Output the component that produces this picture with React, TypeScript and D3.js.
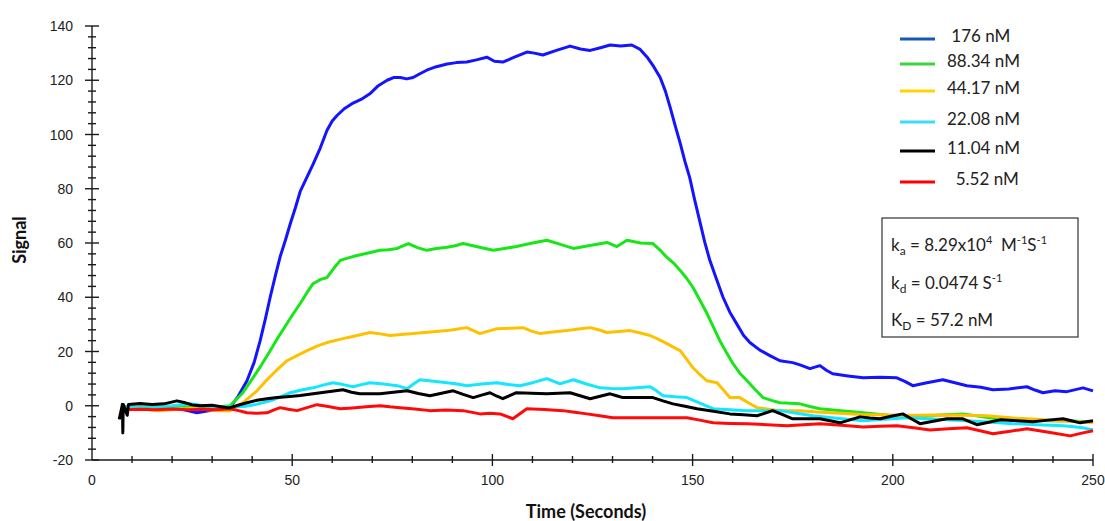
import React, { useEffect, useRef } from "react";
import * as d3 from "d3";

// concentrations shown in the legend
const concLabels = [" 176 nM", "88.34 nM", "44.17 nM", "22.08 nM", "11.04 nM", "  5.52 nM"];
const lineColors = ["#1414ff", "#19e619", "#ffc000", "#14e6ff", "#000000", "#ff0a0a"];
const legendColors = ["#1657b8", "#3ed43e", "#ffd400", "#3ddcff", "#000000", "#ff0000"];

const xMajor = [0, 50, 100, 150, 200, 250];
const yMajor = [-20, 0, 20, 40, 60, 80, 100, 120, 140];

// [time, signal]
const s176 = [[7.6,-1],[9,-0.5],[12.7,0],[16,-0.5],[20,-1],[23,-1.5],[26.2,-2.6],[29.5,-1.8],[32,-1.2],[34.5,-0.7],[36.5,3.5],[38.7,9.2],[40.5,16],[42,24],[43.3,32],[44.5,40],[45.8,48],[47,55],[48.3,61],[49.5,67],[50.8,73],[52,79],[53.6,84],[55.2,89],[57,95],[58.7,101.6],[60,105],[61.2,107],[63,109.5],[65.2,111.6],[67.3,113],[69.4,115],[71.5,118],[73.7,120],[75.3,121],[77,121],[78.6,120.5],[80.2,121],[82,122.5],[83.6,123.7],[86,125],[88.7,126],[91,126.5],[93.6,126.7],[96,127.5],[98.6,128.5],[100.5,127],[102.6,126.7],[105.5,128.5],[108.6,130.4],[110.5,130],[112.6,129.3],[116,131],[119.4,132.6],[122,131.5],[124.4,131],[127,132],[129.4,133],[132,132.6],[134.8,133],[136.8,131.5],[138.6,128.6],[140.3,125],[141.9,121],[143.2,116],[144.4,110],[145.7,103],[146.9,96.8],[148.1,90],[149.3,84],[150.5,76],[151.8,68],[153,60.5],[154.3,53.6],[156,46.5],[157.6,40],[159.3,34.5],[161.1,30],[162.7,26],[164.3,23.3],[166.8,20.5],[169.3,18.5],[171.8,16.6],[175,15.9],[177,15],[179.3,13.7],[181.8,14.8],[183.5,13],[185,11.8],[188.8,11],[192.6,10.3],[196.8,10.5],[201,10.3],[203,9],[205,7.4],[208.5,8.5],[212.5,9.6],[215.5,8.5],[218.5,7.4],[222,6.8],[225,5.9],[229,6.2],[233.5,7],[235.5,5.8],[237.5,4.8],[240.5,5.5],[243.5,5.2],[247.5,6.6],[250,5.5]];
const s88 = [[7.8,-0.5],[12,-0.2],[16,-0.5],[19.3,-0.7],[22,0],[25,-0.7],[28,-1],[31,-0.5],[34.5,0],[37.5,4.5],[40.2,10.3],[42.3,15],[44.5,20.3],[46.6,25.5],[48.7,30.3],[50.3,34],[52,37.7],[53.6,41.5],[55.2,45],[57,46.5],[58.7,47.3],[60.3,50.5],[62,53.6],[64,54.5],[66.2,55.4],[69,56.3],[71.9,57.3],[74,57.5],[76.2,58],[79,59.8],[81.3,58.3],[83.6,57.3],[86,58],[88.7,58.4],[90.7,59],[92.7,59.8],[96.5,58.5],[100.2,57.3],[103,58],[106,58.7],[110,60],[113.6,61],[117,59.5],[120.2,58],[124,59],[128.6,60.2],[131.1,58.7],[133.6,61],[137,60],[140.1,59.8],[141.8,57.5],[143.6,54.7],[145.3,52.5],[146.9,49.9],[148.5,47],[150.1,43.6],[151.8,39],[153.6,34],[155.2,29],[156.8,24],[158.5,19.5],[160.1,15.5],[161.8,12],[163.6,9.2],[165.6,6],[167.6,3],[169.7,2],[171.8,1.1],[174.3,0.9],[176.8,0.7],[179.3,-0.3],[181.8,-1.1],[187,-1.8],[192.6,-2.6],[198.8,-3.5],[205,-4.4],[211,-3.5],[217.5,-3],[222,-4],[226,-4.8],[232,-5],[238.5,-5.5],[244,-5.6],[250,-5.9]];
const s44 = [[8,-1],[12,-1.2],[17,-1.8],[21,-1.3],[25,-1],[29,-1.5],[32.7,-1.8],[34.5,-1.8],[38,1.5],[41.2,5.5],[43.2,8.8],[45.2,11.8],[47,14.3],[48.7,16.6],[51.2,18.5],[53.7,20.3],[56.2,22],[58.7,23.3],[61.2,24.2],[63.7,25.1],[66.5,26],[69.4,27],[72,26.5],[74.4,25.9],[77.3,26.3],[80.2,26.6],[84.5,27.2],[88.7,27.7],[91,28.2],[93.6,28.8],[96.9,26.6],[99,27.5],[101.1,28.4],[104.5,28.6],[107.6,28.8],[109.8,27.5],[111.9,26.6],[115,27.2],[118.6,27.7],[121.5,28.3],[124.4,28.8],[126.5,28],[128.6,27],[131.5,27.4],[134.4,27.7],[137,26.8],[139.4,25.9],[141.5,24.5],[143.6,22.9],[145.3,21.5],[146.9,20.3],[148.5,17.2],[150.1,14],[151.8,11.5],[153.6,9.2],[156.1,8.5],[157.7,5.8],[159.3,3],[161.8,3],[164,1],[166.1,-0.7],[169,-1.3],[171.8,-1.8],[176.8,-1.8],[182,-2.4],[187,-2.8],[192,-3.2],[196.8,-3.3],[203,-3.6],[210,-3.4],[217,-3.5],[223.5,-3.7],[230,-4.5],[236,-5],[242,-5.5],[246.8,-5.9],[250,-6.3]];
const s22 = [[7.8,-0.5],[12,0],[16,-0.3],[20,0],[24.5,0.7],[28,0],[31,-0.5],[34.5,-0.5],[38,-0.3],[41,0.5],[44.5,1.8],[47,3.2],[49.5,4.8],[52.3,5.8],[55.2,6.6],[57.7,7.6],[60.2,8.5],[62.7,7.8],[65.2,7],[67.3,7.8],[69.4,8.5],[72.8,8],[76.2,7.4],[78.7,6.3],[80.3,8],[81.9,9.6],[85.3,9],[88.7,8.5],[91.2,8],[93.6,7.4],[97.3,8],[101.1,8.5],[104,7.8],[106.9,7.4],[110.3,8.6],[113.6,10],[116.9,8.1],[118.5,8.8],[120.2,9.6],[123.5,8],[126.9,6.6],[129.7,6.4],[132.6,6.3],[136,6.6],[139.4,7],[141,5.5],[142.6,3.7],[145.6,3.3],[148.6,3],[151.8,1],[155.1,-1.1],[159.3,-1.5],[163.6,-1.8],[167.7,-1.8],[171.8,-1.8],[176,-2.8],[180,-3.7],[186,-4.6],[192.6,-5.5],[198,-5],[203.5,-4.4],[211,-5],[218.5,-5.5],[224,-6],[230,-6.6],[236,-7],[242.5,-7.4],[247,-8],[250,-8.9]];
const s11 = [[6.8,-5],[7.6,0.5],[7.7,-10],[7.8,0.5],[8.8,-3.5],[9.1,0.5],[12,0.8],[15,0.5],[18,0.7],[21.2,1.8],[23,1.2],[25,0.3],[27,0],[30,0.2],[33.7,-0.7],[34.5,-0.7],[36.5,0.2],[38.7,1.1],[41.2,2],[43.7,2.6],[46.2,3],[48.7,3.3],[52,3.8],[55.2,4.4],[59,5.2],[62.7,5.9],[64.8,5],[66.9,4.4],[69.4,4.4],[71.9,4.4],[75.3,5],[78.7,5.5],[81.5,4.5],[84.4,3.7],[87.3,4.6],[90.2,5.5],[92.7,4.2],[95.2,3],[97.3,3.9],[99.4,4.8],[101,3.6],[102.6,2.6],[104.3,3.7],[106,4.8],[109.8,4.6],[113.6,4.4],[116.5,4.6],[119.4,4.8],[121.9,3.7],[124.4,2.6],[126.9,3.5],[129.4,4.4],[131,3.7],[132.6,3],[136.4,3],[140.1,3],[142.6,1.8],[145.1,0.7],[148.1,-0.2],[151.1,-1.1],[155.2,-2],[159.3,-3],[162.7,-3.3],[166.1,-3.7],[170,-1.8],[172.5,-3.3],[175,-4.8],[176.8,-4.8],[181.8,-4.8],[184.3,-5.5],[186.8,-6.3],[189.3,-5.2],[191.8,-4.1],[194.3,-4.5],[196.8,-4.8],[199.6,-3.9],[202.5,-3],[204.6,-4.8],[206.8,-6.6],[210.1,-5.7],[213.5,-4.8],[217.5,-4.8],[221,-7],[224,-6.1],[226.8,-5.2],[231,-5.5],[235,-5.9],[238.8,-5.3],[242.5,-4.8],[244.6,-5.5],[246.8,-6.3],[250,-5.5]];
const s5 = [[8,-1.5],[12,-1.3],[16,-1.5],[20,-1.2],[24,-1.5],[28,-1.3],[31,-1.5],[34.5,-1.1],[36.6,-1.8],[38.7,-2.6],[41.2,-2.8],[43.7,-2.6],[45.3,-1.6],[47,-0.7],[49,-1.3],[51.2,-1.8],[53.7,-0.7],[56.2,0.4],[59,-0.3],[62,-1.1],[65,-0.8],[68.5,-0.4],[71.9,0],[74.4,-0.4],[76.9,-0.7],[80.6,-1.2],[84.4,-1.8],[88.5,-1.6],[92.7,-1.8],[96.9,-3],[99.4,-2.8],[101.9,-3],[105.1,-4.8],[108.6,-1.1],[113,-1.4],[117.6,-1.8],[120.6,-2.4],[123.6,-3],[126.8,-3.7],[130.1,-4.4],[134.3,-4.4],[138.6,-4.4],[143.6,-4.4],[148.6,-4.4],[151.8,-5.3],[155.1,-6.3],[159.3,-6.5],[163.6,-6.6],[168.6,-7],[173.6,-7.4],[177.7,-7],[181.8,-6.6],[187.2,-7.2],[192.6,-7.8],[196.8,-7.6],[201,-7.4],[205.2,-8.1],[209.3,-8.9],[213.9,-8.5],[218.5,-8.1],[221.8,-9.2],[225,-10.3],[229.3,-9.4],[233.5,-8.5],[238.9,-9.8],[244.3,-11.1],[247.2,-10.1],[250,-9.2]];

const allSeries = [s176, s88, s44, s22, s11, s5];
// black sits on top of the others near the baseline
const drawOrder = [0, 1, 2, 3, 5, 4];

const App = () => {
	const svgRef = useRef<SVGSVGElement>(null);

	useEffect(() => {
		const svg = d3.select(svgRef.current);
		svg.selectAll("*").remove();

		const x = d3.scaleLinear().domain([0, 250]).range([92, 1093]);
		const y = d3.scaleLinear().domain([-20, 140]).range([460, 26]);
		const x0 = x(0);
		const yBase = y(-20);

		const xMinor = d3.range(0, 251, 10).filter((v) => v % 50 !== 0);
		const yMinor = d3.range(-20, 141, 4).filter((v) => v % 20 !== 0);

		const axes = svg.append("g").attr("stroke", "#1a1a1a").attr("stroke-width", 1.4);
		axes.append("line").attr("x1", x0).attr("x2", x0).attr("y1", y(140)).attr("y2", yBase);
		axes.append("line").attr("x1", x0).attr("x2", x(250)).attr("y1", yBase).attr("y2", yBase);

		// y ticks cross the axis
		axes.selectAll(".ymaj").data(yMajor).join("line")
			.attr("x1", x0 - 7).attr("x2", x0 + 7).attr("y1", (d) => y(d)).attr("y2", (d) => y(d));
		axes.selectAll(".ymin").data(yMinor).join("line")
			.attr("x1", x0 - 4).attr("x2", x0 + 4).attr("y1", (d) => y(d)).attr("y2", (d) => y(d));
		axes.selectAll(".xmaj").data(xMajor.filter((d) => d > 0)).join("line")
			.attr("x1", (d) => x(d)).attr("x2", (d) => x(d)).attr("y1", yBase - 6).attr("y2", yBase + 6);
		axes.selectAll(".xmin").data(xMinor).join("line")
			.attr("x1", (d) => x(d)).attr("x2", (d) => x(d)).attr("y1", yBase - 4).attr("y2", yBase + 3);

		const labels = svg.append("g").style("font-family", "'Liberation Sans', Arial, sans-serif")
			.style("font-size", "14px").attr("fill", "#222");
		labels.selectAll(".yl").data(yMajor).join("text")
			.attr("x", 73).attr("y", (d) => y(d) + 5).attr("text-anchor", "end").text((d) => d);
		labels.selectAll(".xl").data(xMajor).join("text")
			.attr("x", (d) => x(d)).attr("y", yBase + 25).attr("text-anchor", "middle").text((d) => d);

		svg.append("text").attr("transform", "translate(26,240) rotate(-90)")
			.attr("text-anchor", "middle").style("font-family", "Lato, sans-serif")
			.style("font-weight", 700).style("font-size", "18px").attr("fill", "#111").text("Signal");
		svg.append("text").attr("x", 586).attr("y", 518)
			.attr("text-anchor", "middle").style("font-family", "Lato, sans-serif")
			.style("font-weight", 700).style("font-size", "18px").attr("fill", "#111").text("Time (Seconds)");

		const line = d3.line<number[]>().x((d) => x(d[0])).y((d) => y(d[1]));
		svg.append("g").selectAll("path").data(drawOrder).join("path")
			.attr("d", (i) => line(allSeries[i]))
			.attr("fill", "none")
			.attr("stroke", (i) => lineColors[i])
			.attr("stroke-width", 3)
			.attr("stroke-linejoin", "round");

		// legend
		const legendY = [39, 64, 91, 122, 151, 182];
		const legend = svg.append("g").style("font-family", "Lato, sans-serif").style("font-size", "17px");
		legend.selectAll("line").data(concLabels).join("line")
			.attr("x1", 900).attr("x2", 935).attr("y1", (_, i) => legendY[i]).attr("y2", (_, i) => legendY[i])
			.attr("stroke", (_, i) => legendColors[i]).attr("stroke-width", 3);
		legend.selectAll("text").data(concLabels).join("text")
			.attr("x", 947).attr("y", (_, i) => legendY[i] + 3)
			.style("white-space", "pre").attr("fill", "#222").text((d) => d);

		// kinetics box
		svg.append("rect").attr("x", 882).attr("y", 218).attr("width", 196).attr("height", 119)
			.attr("fill", "#fff").attr("stroke", "#333").attr("stroke-width", 1.2);
		const box = svg.append("g").style("font-family", "Lato, sans-serif").style("font-size", "17px").attr("fill", "#222");

		const t1 = box.append("text").attr("x", 891).attr("y", 251).style("white-space", "pre");
		t1.append("tspan").text("k");
		t1.append("tspan").attr("dy", 4).style("font-size", "12px").text("a");
		t1.append("tspan").attr("dy", -4).text(" = 8.29x10");
		t1.append("tspan").attr("dy", -7).style("font-size", "11px").text("4");
		t1.append("tspan").attr("dy", 7).text("  M");
		t1.append("tspan").attr("dy", -7).style("font-size", "11px").text("-1");
		t1.append("tspan").attr("dy", 7).text("S");
		t1.append("tspan").attr("dy", -7).style("font-size", "11px").text("-1");

		const t2 = box.append("text").attr("x", 891).attr("y", 289).style("white-space", "pre");
		t2.append("tspan").text("k");
		t2.append("tspan").attr("dy", 4).style("font-size", "12px").text("d");
		t2.append("tspan").attr("dy", -4).text(" = 0.0474 S");
		t2.append("tspan").attr("dy", -7).style("font-size", "11px").text("-1");

		const t3 = box.append("text").attr("x", 891).attr("y", 326).style("white-space", "pre");
		t3.append("tspan").text("K");
		t3.append("tspan").attr("dy", 4).style("font-size", "12px").text("D");
		t3.append("tspan").attr("dy", -4).text(" = 57.2 nM");
	}, []);

	return (
		<div style={{ position: "absolute", left: 0, top: 0, background: "#fff" }}>
			<svg ref={svgRef} width={1105} height={521} style={{ display: "block" }}></svg>
		</div>
	);
};

export default App;
